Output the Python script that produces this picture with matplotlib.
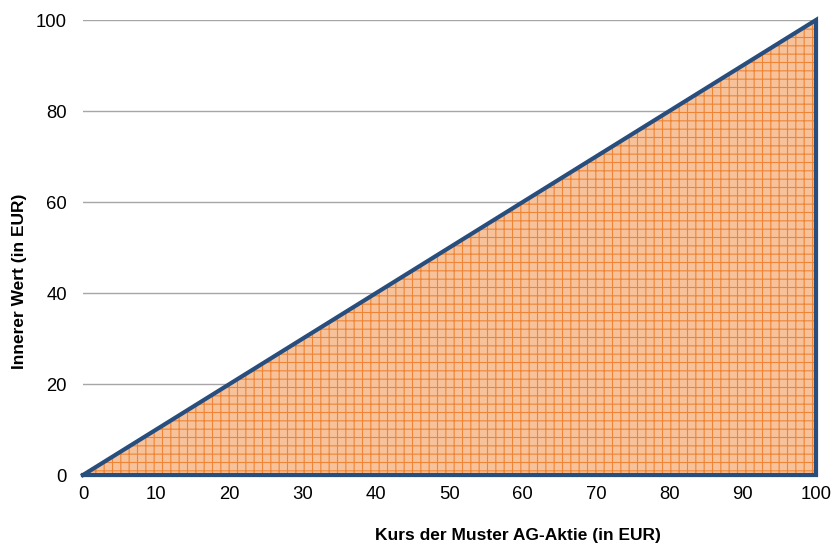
import numpy as np
import matplotlib
matplotlib.use("Agg")
import matplotlib.pyplot as plt

plt.rcParams['font.family'] = ['Liberation Sans', 'DejaVu Sans']
plt.rcParams['hatch.linewidth'] = 0.8
plt.rcParams['hatch.color'] = '#EE8434'

# intrinsic value of the stock vs. share price
kurs = [0, 100]
innerer_wert = [0, 100]
x_ticks = [0, 10, 20, 30, 40, 50, 60, 70, 80, 90, 100]
y_ticks = [0, 20, 40, 60, 80, 100]

fig = plt.figure(figsize=(8.33, 5.45), dpi=100)
ax = fig.add_axes([0.0996, 0.1284, 0.88, 0.8349])

for y in y_ticks[1:]:
    ax.axhline(y, color='#A6A6A6', lw=1.0, zorder=0)

ax.fill_between(kurs, innerer_wert, 0, facecolor='#F7C29A', hatch='++',
                edgecolor='#EE8434', lw=0, zorder=1)
# triangle outline
ax.plot(kurs + [kurs[-1], kurs[0]], innerer_wert + [0, 0],
        color='#284E7E', lw=3.0, solid_joinstyle='miter', zorder=3, clip_on=False)

ax.set_xlim(0, 100)
ax.set_ylim(0, 100)
ax.set_xticks(x_ticks)
ax.set_yticks(y_ticks)
ax.tick_params(length=0, labelsize=13.3)
ax.tick_params(axis='y', pad=11.5)
ax.tick_params(axis='x', pad=8)
for s in ax.spines.values():
    s.set_visible(False)

ax.set_xlabel('Kurs der Muster AG-Aktie (in EUR)', fontsize=12.5, fontweight='bold', va='center')
ax.set_ylabel('Innerer Wert (in EUR)', fontsize=12.5, fontweight='bold', va='center')
ax.xaxis.set_label_coords(0.593, -0.132)
ax.yaxis.set_label_coords(-0.086, 0.426)

fig.savefig('out.png', dpi=100)
